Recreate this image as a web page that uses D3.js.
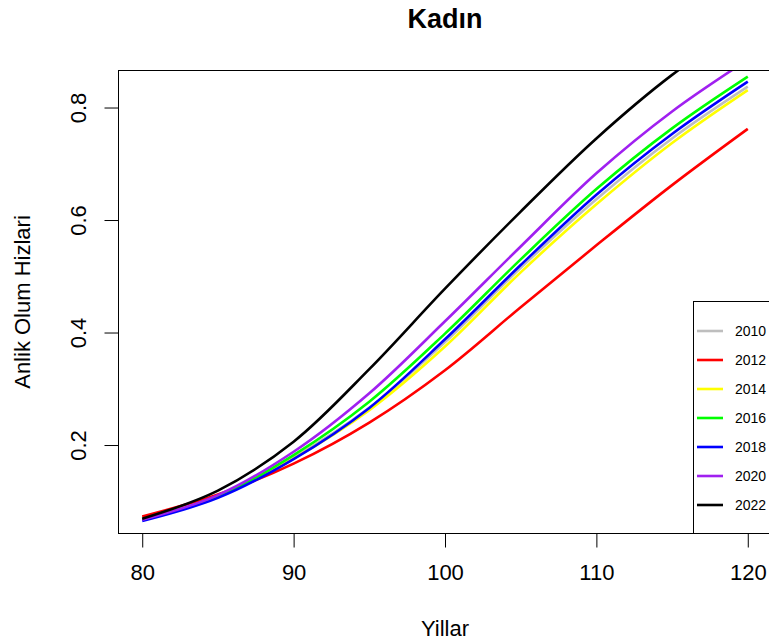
<!DOCTYPE html>
<html><head><meta charset="utf-8">
<script src="https://cdn.jsdelivr.net/npm/d3@7"></script>
<style>body{margin:0;background:#fff}svg{display:block}text{font-family:"Liberation Sans",Arial,sans-serif}</style>
</head><body>
<svg id="c" width="769" height="644"></svg>
<script>
const ages = [80,85,90,95,100,105,110,115,120];
const years = ["2010","2012","2014","2016","2018","2020","2022"];
const colors = ["#BEBEBE","#FF0000","#FFFF00","#00FF00","#0000FF","#A020F0","#000000"];
const s2010 = [0.071,0.110,0.178,0.266,0.383,0.515,0.637,0.745,0.837];
const s2012 = [0.073,0.112,0.167,0.240,0.333,0.445,0.555,0.662,0.762];
const s2014 = [0.068,0.108,0.176,0.262,0.375,0.507,0.628,0.737,0.831];
const s2016 = [0.067,0.108,0.182,0.277,0.398,0.530,0.655,0.763,0.855];
const s2018 = [0.065,0.106,0.175,0.266,0.388,0.520,0.645,0.753,0.846];
const s2020 = [0.067,0.111,0.188,0.292,0.420,0.553,0.683,0.793,0.885];
const s2022 = [0.069,0.119,0.206,0.335,0.478,0.615,0.745,0.858,0.950];
const series = [s2010,s2012,s2014,s2016,s2018,s2020,s2022];
const xTicks = [80,90,100,110,120];
const yTicks = [0.2,0.4,0.6,0.8];

const svg = d3.select("#c");
const L=118, R=772, T=70, B=533;
const x = d3.scaleLinear().domain([78.4,121.6]).range([L,R]);
const y = d3.scaleLinear().domain([0.0436,0.8667]).range([B,T]);

svg.append("defs").append("clipPath").attr("id","clip")
  .append("rect").attr("x",L).attr("y",T).attr("width",R-L).attr("height",B-T);

const line = d3.line().x((d,i)=>x(ages[i])).y(d=>y(d)).curve(d3.curveCatmullRom.alpha(0.5));
const g = svg.append("g").attr("clip-path","url(#clip)");
series.forEach((s,k)=>{
  g.append("path").attr("d",line(s)).attr("fill","none")
   .attr("stroke",colors[k]).attr("stroke-width",2.6).attr("stroke-linejoin","round");
});

// box
svg.append("rect").attr("x",L+0.5).attr("y",T+0.5).attr("width",R-L).attr("height",B-T)
  .attr("fill","none").attr("stroke","#000").attr("stroke-width",1);

// x axis
const xa = svg.append("g").attr("transform",`translate(0,${B+0.5})`)
  .call(d3.axisBottom(x).tickValues(xTicks).tickSize(14).tickPadding(17).tickFormat(d3.format("d")));
xa.select(".domain").attr("d",`M${x(80)},0H${x(120)}`).attr("stroke","#000");
xa.selectAll("line").attr("stroke","#000");
xa.selectAll("text").attr("font-size",22).attr("fill","#000").attr("font-family","Liberation Sans, Arial, sans-serif");

// y axis
const ya = svg.append("g").attr("transform",`translate(${L+0.5},0)`)
  .call(d3.axisLeft(y).tickValues(yTicks).tickSize(14).tickFormat(d3.format(".1f")));
ya.select(".domain").attr("d",`M0,${y(0.2)}V${y(0.8)}`).attr("stroke","#000");
ya.selectAll("line").attr("stroke","#000");
ya.selectAll("text").attr("font-size",22).attr("fill","#000")
  .attr("font-family","Liberation Sans, Arial, sans-serif")
  .attr("x",0).attr("dy",0)
  .attr("text-anchor","middle")
  .attr("transform",d=>`translate(-33,0) rotate(-90)`);

// titles
svg.append("text").attr("x",445).attr("y",28).attr("text-anchor","middle")
  .attr("font-size",27).attr("font-weight","bold").text("Kadın");
svg.append("text").attr("x",445).attr("y",636).attr("text-anchor","middle")
  .attr("font-size",22).text("Yillar");
svg.append("text").attr("transform","translate(30,302) rotate(-90)").attr("text-anchor","middle")
  .attr("font-size",22).text("Anlik Olum Hizlari");

// legend
const lg = svg.append("g");
lg.append("rect").attr("x",693.5).attr("y",301.5).attr("width",120).attr("height",B-301)
  .attr("fill","#fff").attr("stroke","#000");
years.forEach((yr,k)=>{
  const yy = 331 + k*29;
  lg.append("line").attr("x1",697).attr("x2",723).attr("y1",yy).attr("y2",yy)
    .attr("stroke",colors[k]).attr("stroke-width",2.6);
  lg.append("text").attr("x",735).attr("y",yy+5).attr("font-size",14).text(yr);
});
</script>
</body></html>
